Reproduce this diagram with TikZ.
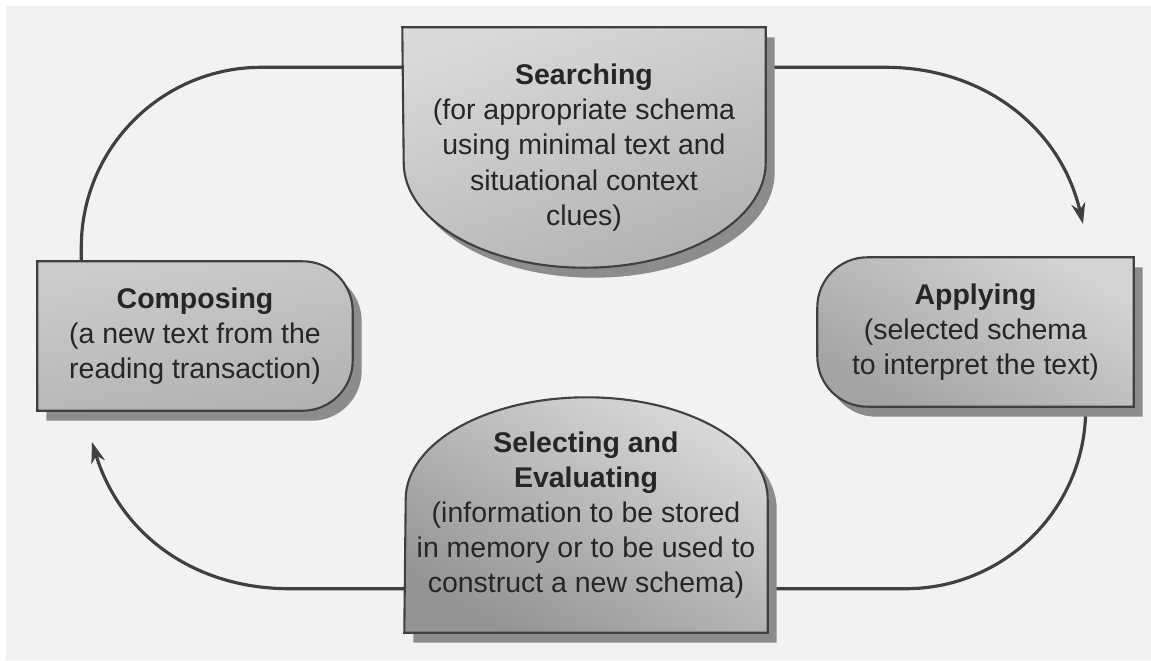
\documentclass[tikz,border=0pt]{standalone}
\usepackage{fontspec}
\setmainfont{Liberation Sans}
\usetikzlibrary{arrows.meta,shadows,backgrounds}

\begin{document}
\begin{tikzpicture}[
		t/.style  = {rectangle, inner sep=0pt, align=center, text=black!85, font=\fontsize{8.1}{10}\selectfont},
		sh/.style = {draw=black!75, line width=0.6pt, drop shadow={shadow xshift=0.09cm, shadow yshift=-0.1cm, fill=black!45, opacity=1}},
		ln/.style = {draw=black!75, line width=0.9pt, rounded corners=1.8cm},
		la/.style = {draw=black!75, line width=0.9pt, -{Stealth[length=6pt, width=4pt]}}
		]
		
		\useasboundingbox (0,0) rectangle (11.51,6.60);
		
		%Nodes
		\node[t, minimum width=3.62cm, minimum height=2.39cm]	(search)	at (5.84, 5.125)	{\textbf{Searching}\\(for appropriate schema\\using minimal text and\\situational context\\clues)};
		\node[t, minimum width=3.15cm, minimum height=1.48cm]	(apply)		at (9.755, 3.28)	{\textbf{Applying}\\(selected schema\\to interpret the text)};
		\node[t, minimum width=3.62cm, minimum height=2.34cm]	(select)	at (5.86, 1.45)		{\textbf{Selecting and}\\\textbf{Evaluating}\\(information to be stored\\in memory or to be used to\\construct a new schema)};
		\node[t, minimum width=3.14cm, minimum height=1.48cm]	(comp)		at (1.95, 3.24)		{\textbf{Composing}\\(a new text from the\\reading transaction)};
		
		\coordinate (tipA) at (10.83, 4.36);
		\coordinate (tipC) at (0.92, 2.18);
		
		\begin{pgfonlayer}{background}
		\fill[white]   (0,0) rectangle (11.51,6.60);
		\fill[black!5] (0.06,0) rectangle (11.51,6.54);
		
		%Lines
		\draw[ln] ([xshift=0.44cm]comp.north west) |- ([yshift=-0.4cm]search.north west);
		\draw[la] ([yshift=-0.4cm]search.north east) -- ++(1.2,0) to[out=0, in=103] (tipA);
		\draw[ln] ([xshift=-0.48cm]apply.south east) |- ([yshift=0.44cm]select.south east);
		\draw[la] ([yshift=0.44cm]select.south west) -- ++(-1.15,0) to[out=180, in=-73] (tipC);
		
		%Shapes
		\path[sh, top color=black!15, bottom color=black!30, shading angle=20]
			(search.north west) -- (search.north east) -- ([yshift=1.05cm]search.south east)
			arc[start angle=0, end angle=-180, x radius=1.81cm, y radius=1.05cm] -- cycle;
		\path[sh, top color=black!17, bottom color=black!36, shading angle=-30]
			(apply.north east) -- (apply.south east) -- ([xshift=0.5cm]apply.south west)
			arc[start angle=270, end angle=180, radius=0.5cm] -- ([yshift=-0.5cm]apply.north west)
			arc[start angle=180, end angle=90, radius=0.5cm] -- cycle;
		\path[sh, top color=black!15, bottom color=black!42, shading angle=-30]
			(select.south west) -- (select.south east) -- ([yshift=-1.02cm]select.north east)
			arc[start angle=0, end angle=180, x radius=1.81cm, y radius=1.02cm] -- cycle;
		\path[sh, top color=black!20, bottom color=black!30, shading angle=10]
			(comp.south west) -- (comp.north west) -- ([xshift=-0.5cm]comp.north east)
			arc[start angle=90, end angle=0, radius=0.5cm] -- ([yshift=0.5cm]comp.south east)
			arc[start angle=0, end angle=-90, radius=0.5cm] -- cycle;
		\end{pgfonlayer}
		
	\end{tikzpicture}
\end{document}
